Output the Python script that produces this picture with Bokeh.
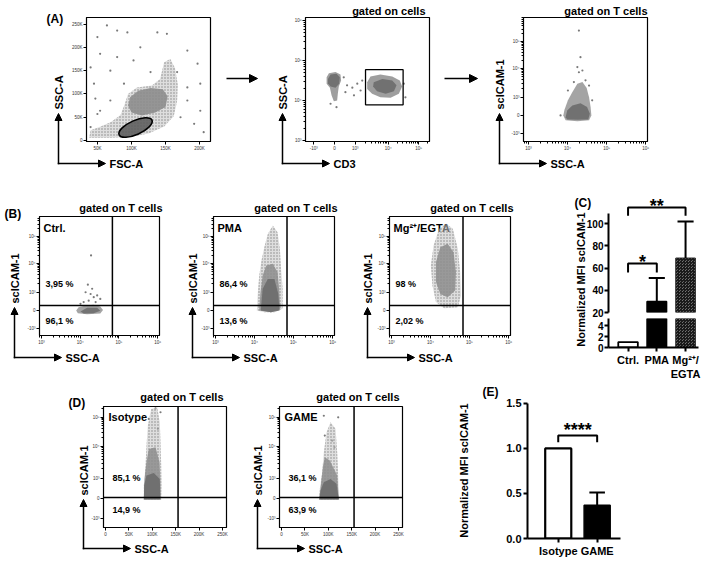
import math
from bokeh.plotting import figure
from bokeh.layouts import column
from bokeh.models import Range1d, FixedTicker, Span, Arrow, NormalHead, NumeralTickFormatter
from bokeh.core.properties import value
from bokeh.embed import file_html
from bokeh.resources import INLINE

FONT = "Liberation Sans"
PAGE_W, PAGE_H = 709, 562
BL, BR = 40, 10          # left/right borders shared by every figure in the column

# ---------------- axis tick sets ----------------
log_ticks = [1e3, 1e4, 1e5, 1e6]
log_labels = ["10³", "10⁴", "10⁵", "10⁶"]
log_minor = [m * 10.0 ** k for k in range(2, 7) for m in range(2, 10)]
# biexponential (logicle) display positions of the decade ticks
logicle_ticks = [-0.63, 0.0, 0.63, 1.63, 2.55]
logicle_labels = ["-10³", "0", "10³", "10⁴", "10⁵"]
logicle_decades = [(0.63, 1.63), (1.63, 2.55), (2.55, 3.45)]
logicle_minor = [a + (b - a) * math.log10(m) for a, b in logicle_decades for m in range(2, 10)]
fsc_ticks = [50, 100, 150, 200]
fsc_labels = ["50K", "100K", "150K", "200K"]
ssc_lin_ticks = [0, 50, 100, 150, 200, 250]
ssc_lin_labels = ["0", "50K", "100K", "150K", "200K", "250K"]

# ---------------- (A) gating: FSC-A / SSC-A (K units) ----------------
a1_outer_fsc = [38, 70, 100, 125, 148, 162, 167, 168, 164, 157, 148, 142, 130, 108, 95, 90, 84, 70, 55, 40]
a1_outer_ssc = [6, 6, 8, 15, 30, 52, 85, 120, 155, 175, 168, 132, 118, 114, 100, 78, 55, 40, 30, 22]
a1_core_fsc = [100, 115, 135, 150, 153, 146, 128, 110, 98, 95]
a1_core_ssc = [60, 54, 60, 72, 95, 110, 113, 107, 93, 75]
a1_sparse_fsc = [64, 79, 94, 138, 152, 50, 113, 182, 54, 79, 103, 197, 40, 69, 128, 167,
                 45, 89, 182, 201, 47, 69, 182, 201, 50, 172, 192, 40, 206, 54]
a1_sparse_ssc = [247, 236, 232, 232, 229, 222, 200, 193, 186, 179, 172, 165, 157, 150, 147, 147,
                 122, 122, 114, 122, 90, 86, 86, 64, 57, 50, 36, 29, 18, 64]
cells_gate_fsc, cells_gate_ssc = 106, 28

# ---------------- (A) CD3 / SSC-A ----------------
a2_neg_cd3 = [-0.24, -0.17, 0.03, 0.18, 0.20, 0.13, 0.10, 0.08, -0.02, -0.09, -0.14, -0.24]
a2_neg_ssc = [38000, 47900, 51300, 44700, 31600, 22400, 14800, 10000, 9550, 13500, 20900, 26300]
a2_negcore_cd3 = [-0.20, -0.12, 0.06, 0.16, 0.14, 0.03, -0.12, -0.20]
a2_negcore_ssc = [34700, 44700, 46800, 38000, 26300, 20900, 22400, 26900]
a2_pos_cd3 = [0.99, 1.09, 1.39, 1.75, 1.98, 2.05, 1.95, 1.70, 1.39, 1.14, 0.99]
a2_pos_ssc = [28800, 39800, 44700, 39800, 31600, 22400, 14800, 11700, 12000, 14800, 19500]
a2_poscore_cd3 = [1.19, 1.45, 1.75, 1.88, 1.80, 1.55, 1.29, 1.17]
a2_poscore_ssc = [28800, 34700, 31600, 24000, 17000, 14800, 17000, 22400]
a2_sparse_cd3 = [0.38, 0.54, 0.69, 0.79, 0.59, 0.33, 0.84, 0.28, 2.10, 2.15, -0.12, 0.06]
a2_sparse_ssc = [24000, 20900, 26300, 17800, 13500, 16200, 31600, 38000, 26300, 12000, 8300, 6800]
tcell_gate_cd3 = (0.94, 2.08)
tcell_gate_ssc = (7800, 58900)

# ---------------- (A) SSC-A / scICAM-1 ----------------
a3_outer_ssc = [7760, 8320, 10200, 13200, 17800, 24000, 30900, 35500, 38900, 40700, 35500, 17800, 8900]
a3_outer_icam = [0, 0.2, 0.52, 0.8, 1.09, 1.15, 0.95, 0.63, 0.29, 0, -0.17, -0.2, -0.17]
a3_core_ssc = [8900, 9800, 13200, 21400, 31600, 37200, 33900, 17800, 9800]
a3_core_icam = [-0.06, 0.17, 0.34, 0.42, 0.29, 0.06, -0.14, -0.15, -0.14]
a3_sparse_ssc = [19500, 21400, 17800, 24000, 19500, 28800, 14500, 10200, 35500, 6600, 42700]
a3_sparse_icam = [2.93, 2.01, 1.67, 1.55, 1.49, 1.21, 1.15, 0.86, 1.03, 0.0, 0.52]

# ---------------- (B) stimulation ----------------
b_conditions = ["Ctrl.", "PMA", "Mg²⁺/EGTA"]
b_upper_pct = ["3,95 %", "86,4 %", "98 %"]
b_lower_pct = ["96,1 %", "13,6 %", "2,02 %"]
b_gate_ssc = 68000
b_gate_icam = 0.17
b_outer_ssc = [
    [7900, 9100, 13800, 22400, 33100, 38900, 33100, 15100, 8700],
    [11500, 12000, 13200, 15100, 17800, 21900, 29500, 38900, 44700, 47900, 52500, 52500, 32400, 17800],
    [11200, 10200, 12000, 16600, 25100, 37200, 50100, 57500, 60300, 50100, 22400, 13800],
]
b_outer_icam = [
    [0, 0.11, 0.17, 0.2, 0.14, 0.02, -0.1, -0.13, -0.09],
    [0, 0.52, 1.21, 1.72, 2.18, 2.64, 2.93, 2.7, 2.13, 1.44, 0.75, 0.06, -0.06, -0.06],
    [0.86, 1.55, 2.24, 2.82, 2.99, 2.82, 2.13, 1.32, 0.52, 0.11, 0.08, 0.29],
]
b_mid_ssc = [
    [10200, 15100, 27500, 33100, 22400, 12300],
    [13200, 14100, 16200, 20000, 29500, 38900, 42700, 45700, 26300],
    [13800, 13800, 17800, 27500, 38900, 44700, 42700, 27500, 17800],
]
b_mid_icam = [
    [-0.03, 0.1, 0.1, -0.01, -0.09, -0.1],
    [0, 0.57, 1.21, 1.55, 1.61, 1.32, 0.75, 0.06, -0.06],
    [0.98, 1.67, 2.18, 2.3, 2.01, 1.32, 0.69, 0.46, 0.57],
]
b_core_ssc = [[], [14500, 16200, 21900, 32400, 40700, 43700, 26300], []]
b_core_icam = [[], [0, 0.75, 1.09, 1.09, 0.57, 0, -0.06], []]
b_sparse_ssc = [[12300, 16600, 22400, 18600, 27500, 13800, 20400, 33100, 15800, 19100, 25100, 10200], [], []]
b_sparse_icam = [[0.29, 0.34, 0.46, 0.57, 0.52, 0.63, 0.75, 0.4, 0.89, 1.9, 0.29, 0.23], [], []]

# ---------------- (D) isotype vs GAME ----------------
d_conditions = ["Isotype", "GAME"]
d_upper_pct = ["85,1 %", "36,1 %"]
d_lower_pct = ["14,9 %", "63,9 %"]
d_gate_ssc = 155
d_gate_icam = 0.03
d_outer_ssc = [
    [81.9, 81.9, 85.5, 87.6, 90.4, 97.6, 110.5, 116.0, 117.5, 119.0, 119.7, 119.0],
    [79.8, 81.9, 86.9, 90.4, 96.2, 104.7, 115.4, 119.0, 121.1, 123.2],
]
d_outer_icam = [
    [-0.03, 0.41, 1.03, 1.66, 2.28, 2.80, 2.85, 2.39, 1.76, 1.03, 0.41, -0.03],
    [-0.03, 0.3, 0.82, 1.45, 2.07, 2.39, 2.18, 1.45, 0.72, -0.03],
]
d_mid_ssc = [
    [81.9, 83.3, 87.6, 92.5, 106.8, 115.4, 117.5, 117.5],
    [80.5, 84.8, 89.0, 92.5, 103.2, 119.0, 122.5],
]
d_mid_icam = [
    [-0.03, 0.61, 1.14, 1.55, 1.6, 1.14, 0.51, -0.03],
    [-0.03, 0.51, 1.03, 1.29, 1.19, 0.72, -0.03],
]
d_core_ssc = [
    [81.9, 82.6, 87.6, 103.2, 116.0, 117.5],
    [81.2, 83.3, 90.4, 104.7, 117.5, 122.5],
]
d_core_icam = [
    [-0.03, 0.41, 0.72, 0.8, 0.61, -0.03],
    [-0.03, 0.25, 0.51, 0.61, 0.46, -0.03],
]
d_sparse_ssc = [[106.8, 117.5, 92.5, 111.8], [90.4, 121.1, 92.5, 108.3, 113.2]]
d_sparse_icam = [[2.82, 2.7, 2.49, 2.18], [2.59, 2.54, 1.97, 1.81, 1.6]]

# ---------------- (C) and (E) bar charts ----------------
c_groups = ["Ctrl.", "PMA", "Mg²⁺/\nEGTA"]
c_mean = [1.0, 30.0, 69.0]
c_sd = [0.0, 21.0, 33.0]
e_groups = ["Isotype", "GAME"]
e_mean = [1.0, 0.37]
e_sd = [0.0, 0.14]

# ---------------- layout (frame boxes in page pixels) ----------------
A_frames = [(86, 17, 210, 141), (305, 17, 429, 141), (523, 17, 647, 141)]
B_frames = [(39, 216, 159, 335), (213, 216, 334, 335), (389, 216, 510, 335)]
D_frames = [(103, 406, 226, 527), (279, 406, 402, 527)]
C_top_frame = (608, 192, 698, 312)
C_low_frame = (608, 318, 698, 347)
E_frame = (527, 398, 620, 538)
BG_W = PAGE_W - BL - BR  # width of the annotation layer's frame

OUTER, MID, CORE, DOT = "#c2c2c2", "#8d8d8d", "#6b6b6b", "#7a7a7a"


def frame_fig(box, xr, yr, x_type="linear", y_type="linear", top=10, bottom=30, **kw):
    x0, y0, x1, y1 = box
    return figure(frame_width=x1 - x0, frame_height=y1 - y0,
                  x_range=Range1d(*xr), y_range=Range1d(*yr),
                  x_axis_type=x_type, y_axis_type=y_type,
                  output_backend="svg", toolbar_location=None,
                  min_border_left=BL, min_border_right=BR,
                  min_border_top=top, min_border_bottom=bottom,
                  background_fill_alpha=0, border_fill_alpha=0,
                  styles={"position": "absolute", "left": f"{x0 - BL}px", "top": f"{y0 - top}px"},
                  **kw)


def style_flow(p, xt, xl, xm, yt, yl, ym):
    p.grid.visible = False
    p.outline_line_color = "black"
    p.outline_line_width = 1.2
    p.outline_line_alpha = 1.0
    p.xaxis.ticker = FixedTicker(ticks=xt, minor_ticks=xm)
    p.xaxis.major_label_overrides = dict(zip(xt, xl))
    p.yaxis.ticker = FixedTicker(ticks=yt, minor_ticks=ym)
    p.yaxis.major_label_overrides = dict(zip(yt, yl))
    for ax in p.axis:
        ax.major_label_text_font = FONT
        ax.major_label_text_font_size = "4.5px"
        ax.major_label_text_color = "#333333"
        ax.major_label_standoff = 1
        ax.major_tick_out = 3
        ax.major_tick_in = 0
        ax.minor_tick_out = 2
        ax.minor_tick_in = 0
        ax.axis_line_width = 1


def cloud(p, xs, ys, color, alpha):
    if not xs:
        return
    if color == OUTER:
        # sparse events: light fill with a speckle texture
        p.patch(xs, ys, fill_color=color, fill_alpha=0.55, line_color=None,
                hatch_pattern="dot", hatch_color="#7c7c7c", hatch_scale=3, hatch_weight=1, hatch_alpha=0.9)
    else:
        p.patch(xs, ys, fill_color=color, fill_alpha=alpha, line_color=None)


def dots(p, xs, ys):
    if xs:
        p.scatter(xs, ys, size=2.2, fill_color=DOT, line_color=None)


figs = []

# (A1) FSC-A vs SSC-A
a1 = frame_fig(A_frames[0], (34, 216), (-2, 264))
style_flow(a1, fsc_ticks, fsc_labels, [], ssc_lin_ticks, ssc_lin_labels, [])
dots(a1, a1_sparse_fsc, a1_sparse_ssc)
cloud(a1, a1_outer_fsc, a1_outer_ssc, OUTER, 0.7)
cloud(a1, a1_core_fsc, a1_core_ssc, MID, 0.9)
a1.ellipse(x=[cells_gate_fsc], y=[cells_gate_ssc], width=36, height=14, angle=0.42,
           width_units="screen", height_units="screen",
           fill_color="#5e5e5e", fill_alpha=0.9, line_color="black", line_width=1.6)
figs.append(a1)

# (A2) CD3 vs SSC-A
a2 = frame_fig(A_frames[1], (-0.88, 2.88), (945, 1.19e6), y_type="log")
style_flow(a2, logicle_ticks, logicle_labels, logicle_minor, log_ticks, log_labels, log_minor)
dots(a2, a2_sparse_cd3, a2_sparse_ssc)
cloud(a2, a2_neg_cd3, a2_neg_ssc, MID, 0.85)
cloud(a2, a2_negcore_cd3, a2_negcore_ssc, CORE, 0.9)
cloud(a2, a2_pos_cd3, a2_pos_ssc, MID, 0.85)
cloud(a2, a2_poscore_cd3, a2_poscore_ssc, CORE, 0.9)
a2.quad(left=[tcell_gate_cd3[0]], right=[tcell_gate_cd3[1]],
        bottom=[tcell_gate_ssc[0]], top=[tcell_gate_ssc[1]],
        fill_color=None, line_color="black", line_width=1.3)
figs.append(a2)

# (A3) SSC-A vs scICAM-1
a3 = frame_fig(A_frames[2], (740, 1.12e6), (-0.9, 3.38), x_type="log")
style_flow(a3, log_ticks, log_labels, log_minor, logicle_ticks, logicle_labels, logicle_minor)
dots(a3, a3_sparse_ssc, a3_sparse_icam)
cloud(a3, a3_outer_ssc, a3_outer_icam, MID, 0.8)
cloud(a3, a3_core_ssc, a3_core_icam, CORE, 0.9)
figs.append(a3)

# (B) quadrant plots
for i, box in enumerate(B_frames):
    p = frame_fig(box, (890, 1.12e6), (-0.86, 3.24), x_type="log")
    style_flow(p, log_ticks, log_labels, log_minor, logicle_ticks, logicle_labels, logicle_minor)
    dots(p, b_sparse_ssc[i], b_sparse_icam[i])
    cloud(p, b_outer_ssc[i], b_outer_icam[i], OUTER if i else MID, 0.8)
    cloud(p, b_mid_ssc[i], b_mid_icam[i], MID if i else CORE, 0.85)
    cloud(p, b_core_ssc[i], b_core_icam[i], CORE, 0.9)
    p.add_layout(Span(location=b_gate_ssc, dimension="height", line_color="black", line_width=1.5))
    p.add_layout(Span(location=b_gate_icam, dimension="width", line_color="black", line_width=1.5))
    figs.append(p)

# (D) quadrant plots
for i, box in enumerate(D_frames):
    p = frame_fig(box, (-4.3, 258.5), (-0.91, 2.88))
    style_flow(p, ssc_lin_ticks, ssc_lin_labels, [], logicle_ticks, logicle_labels, logicle_minor)
    dots(p, d_sparse_ssc[i], d_sparse_icam[i])
    cloud(p, d_outer_ssc[i], d_outer_icam[i], OUTER, 0.8)
    cloud(p, d_mid_ssc[i], d_mid_icam[i], MID, 0.85)
    cloud(p, d_core_ssc[i], d_core_icam[i], CORE, 0.9)
    p.add_layout(Span(location=d_gate_ssc, dimension="height", line_color="black", line_width=1.5))
    p.add_layout(Span(location=d_gate_icam, dimension="width", line_color="black", line_width=1.5))
    figs.append(p)


def style_bar_axes(p, label_size="11px"):
    p.grid.visible = False
    p.outline_line_color = None
    for ax in p.axis:
        ax.axis_line_width = 2
        ax.major_tick_line_width = 2
        ax.major_tick_out = 4
        ax.major_tick_in = 0
        ax.minor_tick_line_color = None
        ax.major_label_text_font = FONT
        ax.major_label_text_font_style = "bold"
        ax.major_label_text_font_size = label_size
        ax.major_label_text_color = "black"
        ax.major_label_standoff = 2


c_pos = list(range(len(c_groups)))
c_upper = [m + s for m, s in zip(c_mean, c_sd)]


def c_bars(p, floor):
    # only bars that reach into this segment of the broken axis
    shown = [i for i in c_pos if c_mean[i] > floor]
    styles = [dict(fill_color="white", line_color="black", line_width=1.8),
              dict(fill_color="black", line_color="black", line_width=1.5),
              dict(fill_color="#9c9c9c", line_color="#222222", line_width=1,
                   hatch_pattern="criss_cross", hatch_color="#1a1a1a", hatch_scale=3, hatch_weight=1.2)]
    for i in shown:
        p.vbar(x=[c_pos[i]], top=[c_mean[i]], bottom=0, width=0.68, **styles[i])
    err = [i for i in shown if c_sd[i] > 0]
    p.segment(x0=[c_pos[i] for i in err], y0=[c_mean[i] for i in err],
              x1=[c_pos[i] for i in err], y1=[c_upper[i] for i in err], line_color="black", line_width=2)
    p.segment(x0=[c_pos[i] - 0.28 for i in err], y0=[c_upper[i] for i in err],
              x1=[c_pos[i] + 0.28 for i in err], y1=[c_upper[i] for i in err], line_color="black", line_width=2)


# (C) upper segment of the broken axis
ct = frame_fig(C_top_frame, (-0.68, 2.45), (20, 128), top=10, bottom=5, x_axis_location=None)
style_bar_axes(ct, "10px")
ct.yaxis.major_label_standoff = 1
ct.yaxis.ticker = FixedTicker(ticks=[20, 40, 60, 80, 100])
ct.yaxis.bounds = (20, 109)
c_bars(ct, 20)
# significance brackets: Ctrl vs Mg/EGTA (**) and Ctrl vs PMA (*)
ct.line([0, 0, 2, 2], [107, 114.5, 114.5, 107], line_color="black", line_width=2)
ct.line([0, 0, 1, 1], [56, 64, 64, 56], line_color="black", line_width=2)
ct.text(x=[1, 0.5], y=[115.8, 65.8], text=["**", "*"], text_align="center", text_baseline="alphabetic",
        text_font=value(FONT), text_font_style="bold", text_font_size="18px", text_color="black")
figs.append(ct)

# (C) lower segment
cl = frame_fig(C_low_frame, (-0.68, 2.45), (0, 5.3), top=3, bottom=34)
style_bar_axes(cl)
cl.yaxis.major_label_text_font_size = "10px"
cl.yaxis.major_label_standoff = 1
cl.yaxis.ticker = FixedTicker(ticks=[0, 2, 4])
cl.xaxis.ticker = FixedTicker(ticks=c_pos)
cl.xaxis.major_label_overrides = dict(zip(c_pos, c_groups))
c_bars(cl, 0)
figs.append(cl)

# (E)
e_pos = list(range(len(e_groups)))
e_upper = [m + s for m, s in zip(e_mean, e_sd)]
ef = frame_fig(E_frame, (-0.79, 1.6), (0, 1.555), top=5, bottom=22)
style_bar_axes(ef)
ef.yaxis.ticker = FixedTicker(ticks=[0, 0.5, 1.0, 1.5])
ef.yaxis.formatter = NumeralTickFormatter(format="0.0")
ef.yaxis.bounds = (0, 1.5)
ef.xaxis.ticker = FixedTicker(ticks=e_pos)
ef.xaxis.major_label_overrides = dict(zip(e_pos, e_groups))
ef.vbar(x=e_pos[0:1], top=e_mean[0:1], bottom=0, width=0.67, fill_color="white", line_color="black", line_width=2.2)
ef.vbar(x=e_pos[1:2], top=e_mean[1:2], bottom=0, width=0.67, fill_color="black", line_color="black", line_width=1.5)
ef.segment(x0=e_pos[1:], y0=e_mean[1:], x1=e_pos[1:], y1=e_upper[1:], line_color="black", line_width=2)
ef.segment(x0=[x - 0.2 for x in e_pos[1:]], y0=e_upper[1:], x1=[x + 0.2 for x in e_pos[1:]], y1=e_upper[1:],
           line_color="black", line_width=2)
ef.line([0, 0, 1, 1], [1.07, 1.144, 1.144, 1.07], line_color="black", line_width=2)
ef.text(x=[0.5], y=[1.203], text=["****"], text_align="center", text_baseline="alphabetic",
        text_font=value(FONT), text_font_style="bold", text_font_size="18px", text_color="black")
figs.append(ef)

# ---------------- page-level annotations (labels, arrows) ----------------
bg = figure(frame_width=BG_W, frame_height=PAGE_H,
            x_range=Range1d(0, BG_W), y_range=Range1d(0, PAGE_H),
            x_axis_location=None, y_axis_location=None,
            output_backend="svg", toolbar_location=None,
            min_border_left=BL, min_border_right=BR, min_border_top=0, min_border_bottom=0,
            background_fill_alpha=0, border_fill_alpha=0, outline_line_color=None,
            styles={"position": "absolute", "left": f"{-BL}px", "top": "0px"})
bg.grid.visible = False


def Y(py):
    return PAGE_H - py


def put_text(items, size, align="left", angle=0.0):
    bg.text(x=[t[1] for t in items], y=[Y(t[2]) for t in items], text=[t[0] for t in items],
            angle=angle, text_align=align, text_baseline="middle",
            text_font=value(FONT), text_font_style="bold", text_font_size=size, text_color="black")


put_text([("(A)", 46, 18), ("(B)", 4, 213), ("(C)", 574, 202), ("(D)", 68, 402), ("(E)", 482, 391)], "12px")

titles = [("gated on cells", A_frames[1][2] - 4, 10), ("gated on T cells", A_frames[2][2], 10)]
titles += [("gated on T cells", f[2] + 3, 207) for f in B_frames]
titles += [("gated on T cells", f[2] - 3, 396) for f in D_frames]
put_text(titles, "11px", align="right")

cond = [(c, f[0] + 4, 227) for c, f in zip(b_conditions, B_frames)]
cond += [(c, f[0] + 5, 416) for c, f in zip(d_conditions, D_frames)]
put_text(cond, "11px")

pct = [(t, f[0] + 6, 283) for t, f in zip(b_upper_pct, B_frames)]
pct += [(t, f[0] + 6, 320) for t, f in zip(b_lower_pct, B_frames)]
pct += [(t, f[0] + 9, 477) for t, f in zip(d_upper_pct, D_frames)]
pct += [(t, f[0] + 9, 509) for t, f in zip(d_lower_pct, D_frames)]
put_text(pct, "9px")

put_text([("Normalized MFI scICAM-1", 580, 279), ("Normalized MFI scICAM-1", 463, 470)],
         "11px", align="center", angle=math.pi / 2)


def head(size):
    return NormalHead(size=size, fill_color="black", line_color="black", line_width=1)


def indicator(box, offset, drop, ylab, xlab):
    x0, y0, x1, y1 = box
    cx, cy = x0 - offset, y1 + drop
    vtip, htip = y1 - 28, cx + 47
    bg.add_layout(Arrow(end=head(7), x_start=cx, y_start=Y(cy) - 0.75, x_end=cx, y_end=Y(vtip),
                        line_color="black", line_width=1.5))
    bg.add_layout(Arrow(end=head(7), x_start=cx - 0.75, y_start=Y(cy), x_end=htip, y_end=Y(cy),
                        line_color="black", line_width=1.5))
    put_text([(ylab, cx, vtip - 4)], "11px", align="left", angle=math.pi / 2)
    put_text([(xlab, htip + 4, cy)], "11px", align="left")


indicator(A_frames[0], 28, 22, "SSC-A", "FSC-A")
indicator(A_frames[1], 23, 22, "SSC-A", "CD3")
indicator(A_frames[2], 24, 22, "scICAM-1", "SSC-A")
for f, off in zip(B_frames, [25, 21, 22]):
    indicator(f, off, 22, "scICAM-1", "SSC-A")
for f, off in zip(D_frames, [20, 22]):
    indicator(f, off, 21, "scICAM-1", "SSC-A")

# arrows linking the gating steps
for xs, xe in [(226, 257), (444, 477)]:
    bg.add_layout(Arrow(end=head(8), x_start=xs, y_start=Y(78), x_end=xe, y_end=Y(78),
                        line_color="black", line_width=1.5))

root = column(bg, *figs, styles={"position": "relative", "overflow": "hidden",
                                 "width": f"{PAGE_W}px", "height": f"{PAGE_H}px"})
open("out.html", "w").write(file_html(root, INLINE))
